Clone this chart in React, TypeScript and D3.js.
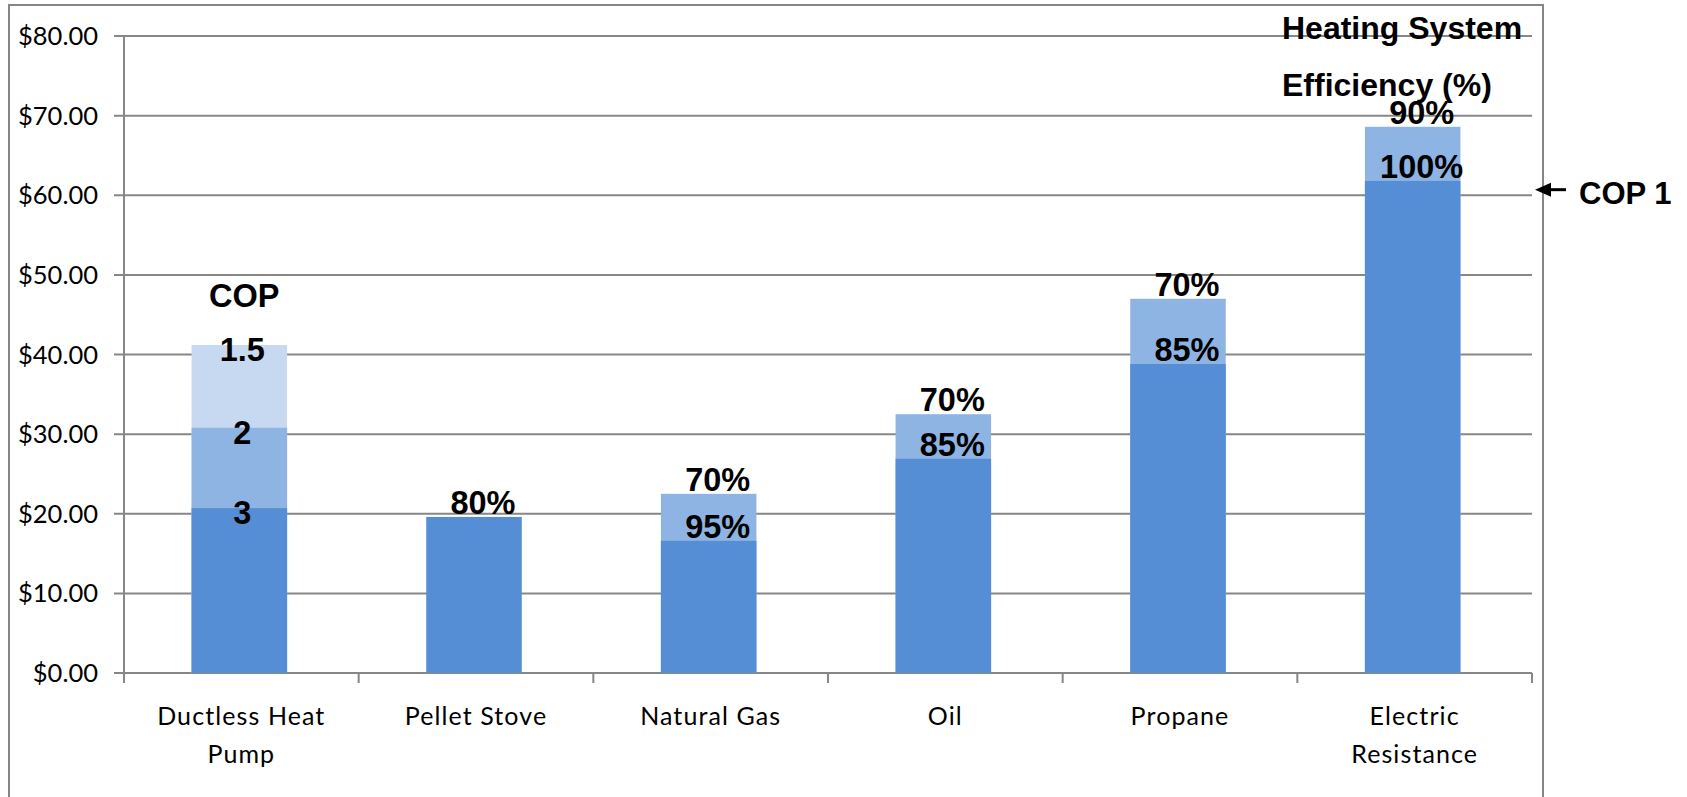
import React from "react";
import * as d3 from "d3";

// Monthly heating cost by system; overlapping bars show cost at different efficiencies / COP
const categories = [
  "Ductless Heat Pump",
  "Pellet Stove",
  "Natural Gas",
  "Oil",
  "Propane",
  "Electric Resistance",
];
const categoryLines = [
  ["Ductless Heat", "Pump"],
  ["Pellet Stove"],
  ["Natural Gas"],
  ["Oil"],
  ["Propane"],
  ["Electric", "Resistance"],
];
// best-case efficiency (dark), lower efficiency (medium), lowest COP (light)
const baseCost: (number | null)[] = [20.7, 19.6, 16.6, 26.9, 38.8, 61.8];
const midCost: (number | null)[] = [30.8, null, 22.5, 32.5, 47.0, 68.6];
const topCost: (number | null)[] = [41.2, null, null, null, null, null];
const baseLabels: (string | null)[] = ["3", "80%", "95%", "85%", "85%", "100%"];
const midLabels: (string | null)[] = ["2", null, "70%", "70%", "70%", "90%"];
const topLabels: (string | null)[] = ["1.5", null, null, null, null, null];
const yTicks = [0, 10, 20, 30, 40, 50, 60, 70, 80];
const cop1Level = 60.7;

const W = 1687;
const H = 797;
const plot = { left: 124, right: 1532, top: 36, bottom: 673 };
const GRID = "#878787";
const COLORS = ["#558ed5", "#8eb4e3", "#c6d9f1"];
const BOLD = "'Liberation Sans', Arial, sans-serif";
const LIGHT = "Lato, 'Open Sans', sans-serif";

export default function App() {
  const y = d3.scaleLinear().domain([0, 80]).range([plot.bottom, plot.top]);
  const x = d3
    .scaleBand<string>()
    .domain(categories)
    .range([plot.left, plot.right])
    .paddingInner(0.593)
    .paddingOuter(0.2965);
  const step = x.step();
  const money = d3.format("$.2f");

  const series = [
    { values: topCost, labels: topLabels, color: COLORS[2] },
    { values: midCost, labels: midLabels, color: COLORS[1] },
    { values: baseCost, labels: baseLabels, color: COLORS[0] },
  ];

  const copIndex = 0;

  return (
    <svg
      width={W}
      height={H}
      style={{ position: "absolute", left: 0, top: 0, display: "block", background: "#fff" }}
    >
      {/* chart frame */}
      <rect x={9} y={5} width={1534} height={H + 20} fill="none" stroke="#868686" strokeWidth={2} />

      {/* gridlines + y ticks */}
      {yTicks.map((t) => (
        <g key={t}>
          <line x1={plot.left - 10} x2={plot.right} y1={y(t)} y2={y(t)} stroke={GRID} strokeWidth={2} />
          <text
            x={98}
            y={y(t) + 9}
            textAnchor="end"
            fontFamily={LIGHT}
            fontSize={25.5}
            fill="#000"
          >
            {money(t)}
          </text>
        </g>
      ))}

      {/* y axis */}
      <line x1={plot.left} x2={plot.left} y1={plot.top} y2={plot.bottom + 10} stroke={GRID} strokeWidth={2} />

      {/* x tick marks at category boundaries */}
      {d3.range(categories.length + 1).map((i) => (
        <line
          key={i}
          x1={plot.left + i * step}
          x2={plot.left + i * step}
          y1={plot.bottom}
          y2={plot.bottom + 10}
          stroke={GRID}
          strokeWidth={2}
        />
      ))}

      {/* bars, drawn back to front */}
      {series.map((s, si) => (
        <g key={si}>
          {categories.map((c, i) => {
            const v = s.values[i];
            if (v == null) return null;
            return (
              <rect
                key={c}
                x={(x(c) as number) - 2}
                y={y(v)}
                width={x.bandwidth()}
                height={y(0) - y(v)}
                fill={s.color}
              />
            );
          })}
        </g>
      ))}

      {/* segment labels */}
      {series.map((s, si) => (
        <g key={"l" + si}>
          {categories.map((c, i) => {
            const v = s.values[i];
            const lab = s.labels[i];
            if (v == null || lab == null) return null;
            const cx = (x(c) as number) + x.bandwidth() / 2;
            const isCop = i === copIndex;
            return (
              <text
                key={c}
                x={cx + (isCop ? 1 : 7)}
                y={y(v) + (isCop ? 16 : -3)}
                textAnchor="middle"
                fontFamily={BOLD}
                fontWeight="bold"
                fontSize={32.5}
                fill="#000"
              >
                {lab}
              </text>
            );
          })}
        </g>
      ))}

      {/* COP heading over the heat pump bar */}
      <text
        x={(x(categories[copIndex]) as number) + x.bandwidth() / 2 + 3}
        y={y(topCost[copIndex] as number) - 38}
        textAnchor="middle"
        fontFamily={BOLD}
        fontWeight="bold"
        fontSize={32.5}
      >
        COP
      </text>

      {/* efficiency heading */}
      <text x={1282} y={39} fontFamily={BOLD} fontWeight="bold" fontSize={32}>
        Heating System
      </text>
      <text x={1282} y={96} fontFamily={BOLD} fontWeight="bold" fontSize={32}>
        Efficiency (%)
      </text>

      {/* COP 1 marker */}
      <g>
        <line x1={1548} x2={1566} y1={y(cop1Level)} y2={y(cop1Level)} stroke="#000" strokeWidth={3} />
        <path
          d={`M1535,${y(cop1Level)} L1551,${y(cop1Level) - 7} L1551,${y(cop1Level) + 7} Z`}
          fill="#000"
        />
        <text x={1579} y={y(cop1Level) + 14} fontFamily={BOLD} fontWeight="bold" fontSize={31}>
          COP 1
        </text>
      </g>

      {/* category labels */}
      {categories.map((c, i) => {
        const cx = plot.left + (i + 0.5) * step;
        return (
          <text key={c} textAnchor="middle" fontFamily={LIGHT} fontSize={25} fill="#000" letterSpacing={1.1}>
            {categoryLines[i].map((ln, li) => (
              <tspan key={li} x={cx} y={725 + li * 38}>
                {ln}
              </tspan>
            ))}
          </text>
        );
      })}
    </svg>
  );
}
